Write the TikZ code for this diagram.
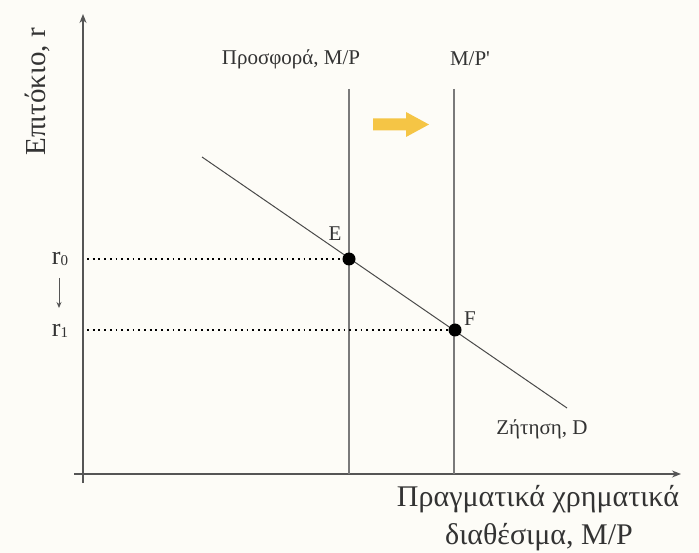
\documentclass[tikz,border=0pt]{standalone}
\usepackage{fontspec}
\setmainfont{Liberation Serif}
\usetikzlibrary{arrows.meta}
\definecolor{bg}{HTML}{FDFCF7}
\definecolor{axisc}{HTML}{555555}
\definecolor{linec}{HTML}{7A7A7A}
\definecolor{demc}{HTML}{4A4A4A}
\definecolor{txt}{HTML}{333333}
\definecolor{gold}{HTML}{F5C545}
\tikzset{
  axisline/.style={draw=axisc, line width=1.3pt},
  supply/.style={draw=linec, line width=1.4pt},
  demand/.style={draw=demc, line width=1pt},
  guide/.style={draw=black, line width=1.6pt, dash pattern=on 1.8pt off 3.9pt},
  eqpt/.style={circle, fill=black, inner sep=0pt, minimum size=13pt},
  lbl/.style={text=txt, inner sep=0pt},
}
\newcommand{\rsub}[1]{r\kern0.3pt\raisebox{-1.5pt}{\fontsize{15}{15}\selectfont #1}}
\begin{document}
\begin{tikzpicture}[x=1pt,y=-1pt]
\fill[bg] (0,0) rectangle (699,553);
\useasboundingbox (0,0) rectangle (699,553);
% axes
\coordinate (ybot) at (83,483);
\coordinate (ytop) at (83,14);
\coordinate (xl) at (74,474);
\coordinate (xr) at (681,474);
\draw[axisline, -{Stealth[length=9pt,width=7pt]}] (ybot) -- (ytop);
\draw[axisline, -{Stealth[length=9pt,width=7pt]}] (xl) -- (xr);
% supply lines
\coordinate (s1t) at (349,89);
\coordinate (s1b) at (349,474);
\coordinate (s2t) at (454,89);
\coordinate (s2b) at (454,474);
\draw[supply] (s1t) -- (s1b);
\draw[supply] (s2t) -- (s2b);
% demand
\coordinate (d1) at (202,157);
\coordinate (d2) at (567,408);
\draw[demand] (d1) -- (d2);
% equilibrium points
\node[eqpt] (E) at (349,259) {};
\node[eqpt] (F) at (455,330) {};
\coordinate (r0a) at (87,259);
\coordinate (r1a) at (87,330);
\draw[guide] (r0a) -- (E);
\draw[guide] (r1a) -- (F);
% yellow arrow
\fill[gold] (373,118.5) -- (406,118.5) -- (406,112) -- (429,124.5) -- (406,137) -- (406,130.5) -- (373,130.5) -- cycle;
% labels
\node[lbl, font=\fontsize{21}{24}\selectfont] (lsup) at (291,59) {Προσφορά, M/P};
\node[lbl, font=\fontsize{21}{24}\selectfont] (lsup2) at (470,59) {M/P\textquotesingle};
\node[lbl, font=\fontsize{21}{24}\selectfont] (lE) at (335,234) {E};
\node[lbl, font=\fontsize{21}{24}\selectfont] (lF) at (470,319) {F};
\node[lbl, font=\fontsize{21}{24}\selectfont] (lD) at (542,429) {Ζήτηση, D};
\node[lbl, font=\fontsize{26}{28}\selectfont] (r0) at (60,259) {\rsub{0}};
\node[lbl, font=\fontsize{26}{28}\selectfont] (r1) at (60,331) {\rsub{1}};
\coordinate (ar0) at (59,278);
\coordinate (ar1) at (59,308);
\draw[draw=axisc, line width=1pt, -{Stealth[length=6pt,width=5pt]}] (ar0) -- (ar1);
\node[lbl, font=\fontsize{29}{32}\selectfont, rotate=90] (ylab) at (38,92) {Επιτόκιο, r};
\node[lbl, font=\fontsize{30}{32}\selectfont] (xlab1) at (538,499) {Πραγματικά χρηματικά};
\node[lbl, font=\fontsize{30}{32}\selectfont] (xlab2) at (539,537) {διαθέσιμα, M/P};
\end{tikzpicture}
\end{document}
